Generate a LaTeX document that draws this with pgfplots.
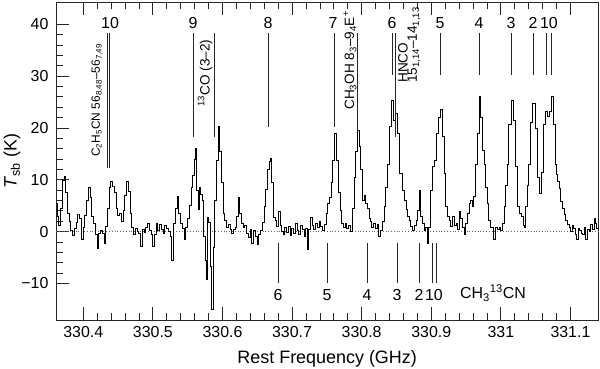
\documentclass[border=0pt]{standalone}
\usepackage{fontspec}
\setmainfont{Liberation Sans}
\usepackage{pgfplots}
\pgfplotsset{compat=1.18}
\begin{document}
\begin{tikzpicture}
\useasboundingbox (0,0) rectangle (600bp,369bp);
\begin{axis}[
  at={(56bp,49bp)}, anchor=south west,
  width=542.3bp, height=318bp, scale only axis,
  xmin=330.3608, xmax=331.14, ymin=-17.05, ymax=44.3,
  axis line style={black!85, line width=0.8bp},
  xtick={330.4,330.5,330.6,330.7,330.8,330.9,331,331.1},
  xticklabels={330.4,330.5,330.6,330.7,330.8,330.9,331,331.1},
  ytick={-10,0,10,20,30,40},
  yticklabels={−10,0,10,20,30,40},
  minor x tick num=4, minor y tick num=4,
  tick align=inside, xtick pos=both, ytick pos=left,
  major tick length=13bp, minor tick length=7bp,
  tick style={black!85, line width=0.8bp},
  tick label style={font=\fontsize{16}{19}\selectfont},
  xticklabel style={yshift=-3bp},
  yticklabel style={xshift=-4bp},
  xlabel={Rest Frequency (GHz)},
  ylabel={\textit{T}\textsubscript{sb} (K)},
  label style={font=\fontsize{18}{21}\selectfont},
  xlabel style={at={(axis description cs:0.5,-0.122)}, anchor=center},
  ylabel style={at={(axis description cs:-0.081,0.5)}, anchor=center},
  clip=false,
]
\addplot[black!60, dotted, line width=0.8bp, forget plot] coordinates {(330.3608,0) (331.14,0)};
\addplot[const plot mark mid, black, line width=0.9bp] table {
f T
330.3610 5.5
330.3635 3.0
330.3660 1.2
330.3685 4.5
330.3710 9.8
330.3735 10.6
330.3760 7.5
330.3785 3.5
330.3810 2.0
330.3835 0.3
330.3860 -0.8
330.3885 0.6
330.3910 1.8
330.3935 3.4
330.3960 2.5
330.3985 -1.5
330.4010 0.8
330.4035 3.2
330.4060 6.0
330.4085 8.6
330.4110 6.5
330.4135 3.0
330.4160 1.5
330.4185 -0.5
330.4210 -3.2
330.4235 -0.4
330.4260 0.2
330.4285 -0.3
330.4310 -2.2
330.4335 1.0
330.4360 4.5
330.4385 8.5
330.4410 9.6
330.4435 8.8
330.4460 7.5
330.4485 4.5
330.4510 3.2
330.4535 3.6
330.4560 2.0
330.4585 4.0
330.4610 7.0
330.4635 9.6
330.4660 7.8
330.4685 3.5
330.4710 0.8
330.4735 -0.5
330.4760 0.6
330.4785 0.0
330.4810 -0.4
330.4835 -2.8
330.4860 0.5
330.4885 -0.2
330.4910 0.9
330.4935 1.5
330.4960 0.3
330.4985 -0.6
330.5010 -2.8
330.5035 -0.5
330.5060 1.6
330.5085 0.2
330.5110 1.4
330.5135 0.4
330.5160 -0.3
330.5185 1.2
330.5210 0.6
330.5235 0.0
330.5260 -1.0
330.5285 -5.5
330.5310 1.5
330.5335 4.5
330.5360 6.8
330.5385 3.5
330.5410 1.5
330.5435 0.6
330.5460 -1.6
330.5485 0.8
330.5510 2.5
330.5535 5.0
330.5560 8.5
330.5585 10.8
330.5610 14.0
330.5625 16.1
330.5640 8.0
330.5660 4.2
330.5680 8.6
330.5700 7.2
330.5720 6.0
330.5740 -1.0
330.5765 -5.5
330.5780 -9.3
330.5795 2.8
330.5815 1.8
330.5835 -6.8
330.5855 -15.1
330.5875 -3.0
330.5900 6.0
330.5925 13.8
330.5950 20.2
330.5975 15.5
330.5995 9.5
330.6020 3.5
330.6045 2.2
330.6070 0.9
330.6095 1.3
330.6120 0.4
330.6145 -0.3
330.6170 0.5
330.6195 0.9
330.6220 3.0
330.6235 6.5
330.6260 3.6
330.6285 1.5
330.6310 0.8
330.6335 1.2
330.6360 -0.3
330.6385 -1.2
330.6410 0.4
330.6435 -2.2
330.6460 0.3
330.6485 -1.0
330.6510 -2.4
330.6535 -0.5
330.6560 0.3
330.6585 1.8
330.6610 4.8
330.6635 8.2
330.6660 11.9
330.6685 13.6
330.6700 14.2
330.6720 9.4
330.6745 2.8
330.6770 2.2
330.6795 1.0
330.6815 3.8
330.6840 1.2
330.6860 0.0
330.6885 -0.6
330.6910 0.8
330.6935 -0.2
330.6960 1.0
330.6985 -0.8
330.7010 0.7
330.7035 -0.4
330.7060 1.5
330.7085 0.2
330.7110 -0.5
330.7135 1.2
330.7160 0.4
330.7185 -1.0
330.7210 0.6
330.7225 -3.5
330.7250 0.5
330.7275 2.8
330.7300 1.2
330.7325 0.5
330.7350 1.6
330.7375 0.9
330.7400 2.0
330.7425 1.0
330.7450 0.3
330.7475 1.4
330.7500 3.6
330.7525 5.5
330.7550 6.5
330.7575 9.5
330.7595 13.8
330.7625 19.0
330.7655 13.8
330.7680 7.5
330.7700 4.0
330.7725 1.5
330.7750 0.8
330.7775 1.6
330.7800 0.6
330.7825 1.2
330.7850 0.0
330.7875 4.5
330.7905 10.5
330.7930 15.5
330.7950 19.6
330.7975 16.4
330.8000 12.0
330.8025 6.0
330.8045 7.0
330.8070 5.5
330.8095 4.5
330.8120 2.5
330.8135 1.9
330.8160 0.8
330.8185 1.5
330.8210 0.6
330.8235 1.3
330.8260 -1.0
330.8290 0.3
330.8315 2.0
330.8335 4.8
330.8360 8.5
330.8385 13.0
330.8420 20.2
330.8445 25.4
330.8468 21.5
330.8493 22.8
330.8525 19.0
330.8565 11.3
330.8600 8.0
330.8625 6.0
330.8650 4.2
330.8675 3.0
330.8695 2.2
330.8720 1.0
330.8745 0.3
330.8770 1.2
330.8790 2.2
330.8815 4.0
330.8838 8.0
330.8860 3.0
330.8885 1.5
330.8910 0.3
330.8930 0.8
330.8950 -2.2
330.8975 0.9
330.9005 8.0
330.9030 12.5
330.9060 13.8
330.9090 19.0
330.9125 22.1
330.9150 23.5
330.9172 18.3
330.9197 11.2
330.9221 4.8
330.9245 3.0
330.9270 2.2
330.9295 1.0
330.9320 2.9
330.9345 1.2
330.9365 1.5
330.9390 0.5
330.9412 3.8
330.9435 2.5
330.9460 0.9
330.9485 -0.5
330.9510 1.5
330.9532 3.5
330.9555 5.5
330.9580 6.0
330.9600 4.8
330.9618 6.7
330.9652 13.0
330.9675 19.0
330.9700 26.0
330.9724 22.0
330.9747 15.7
330.9772 13.0
330.9795 8.5
330.9810 5.4
330.9843 2.2
330.9870 0.9
330.9905 -1.6
330.9930 0.9
330.9960 0.5
330.9987 0.9
331.0015 0.3
331.0040 1.5
331.0059 4.8
331.0080 9.0
331.0098 13.0
331.0131 20.6
331.0164 25.4
331.0193 21.5
331.0227 12.5
331.0250 4.8
331.0275 3.5
331.0308 2.9
331.0330 1.2
331.0346 0.9
331.0371 4.8
331.0390 9.0
331.0408 13.0
331.0443 21.0
331.0476 24.8
331.0504 20.0
331.0537 10.5
331.0562 7.4
331.0595 11.5
331.0624 20.6
331.0658 23.2
331.0681 22.2
331.0706 23.2
331.0739 26.0
331.0763 20.6
331.0792 13.0
331.0810 11.0
331.0825 9.7
331.0849 8.4
331.0874 5.8
331.0900 4.5
331.0921 3.3
331.0945 2.2
331.0968 1.3
331.0990 0.8
331.1017 0.0
331.1040 1.2
331.1060 0.6
331.1080 -0.6
331.1098 -1.6
331.1120 0.6
331.1145 0.2
331.1165 -0.3
331.1185 -0.5
331.1210 0.8
331.1233 -1.6
331.1255 0.5
331.1280 0.0
331.1305 1.3
331.1330 0.4
331.1350 2.6
331.1370 1.5
331.1390 0.6
331.1400 0.8
};
% line markers (top)
\addplot[black!85, line width=0.8bp, unbounded coords=jump, forget plot] coordinates {
(330.4351,38.4) (330.4351,12.3) (330.4351,nan)
(330.4379,38.4) (330.4379,12.3) (330.4379,nan)
(330.5576,38.4) (330.5576,18.3) (330.5576,nan)
(330.5878,38.4) (330.5878,18.3) (330.5878,nan)
(330.6654,38.4) (330.6654,20.2) (330.6654,nan)
(330.7602,38.4) (330.7602,20.2) (330.7602,nan)
(330.7940,38.4) (330.7940,19.6) (330.7940,nan)
(330.8436,38.4) (330.8436,30.2) (330.8436,nan)
(330.8487,38.4) (330.8487,18.3) (330.8487,nan)
(330.9126,38.4) (330.9126,30.2) (330.9126,nan)
(330.9685,38.4) (330.9685,30.2) (330.9685,nan)
(331.0145,38.4) (331.0145,30.2) (331.0145,nan)
(331.0461,38.4) (331.0461,30.2) (331.0461,nan)
(331.0648,38.4) (331.0648,30.2) (331.0648,nan)
(331.0720,38.4) (331.0720,30.2) (331.0720,nan)
};
% line markers (bottom, CH3-13CN)
\addplot[black!85, line width=0.8bp, unbounded coords=jump, forget plot] coordinates {
(330.6797,-2.2) (330.6797,-9.9) (330.6797,nan)
(330.7501,-2.2) (330.7501,-9.9) (330.7501,nan)
(330.8076,-2.2) (330.8076,-9.9) (330.8076,nan)
(330.8507,-2.2) (330.8507,-9.9) (330.8507,nan)
(330.8823,-2.2) (330.8823,-9.9) (330.8823,nan)
(330.9015,-2.2) (330.9015,-9.9) (330.9015,nan)
(330.9078,-2.2) (330.9078,-9.9) (330.9078,nan)
};
\begin{scope}[every node/.style={font=\fontsize{16}{19}\selectfont, inner sep=0pt}]
\node at (axis cs:330.4384,40.3) {10};
\node at (axis cs:330.5576,40.3) {9};
\node at (axis cs:330.6654,40.3) {8};
\node at (axis cs:330.7588,40.3) {7};
\node at (axis cs:330.8436,40.3) {6};
\node at (axis cs:330.9125,40.3) {5};
\node at (axis cs:330.9685,40.3) {4};
\node at (axis cs:331.0145,40.3) {3};
\node at (axis cs:331.0461,40.3) {2};
\node at (axis cs:331.0691,40.3) {10};
\node at (axis cs:330.6797,-12.2) {6};
\node at (axis cs:330.7501,-12.2) {5};
\node at (axis cs:330.8076,-12.2) {4};
\node at (axis cs:330.8507,-12.2) {3};
\node at (axis cs:330.8823,-12.2) {2};
\node at (axis cs:330.9038,-12.2) {10};
\node at (axis cs:330.9887,-11.8) {CH\textsubscript{3}\textsuperscript{13}CN};
\end{scope}
\begin{scope}[every node/.style={font=\fontsize{13.6}{16}\selectfont, inner sep=0pt, rotate=90, anchor=west}]
\node[font=\fontsize{12}{14}\selectfont] at (axis cs:330.4198,14.4) {C\textsubscript{2}H\textsubscript{5}CN 56\textsubscript{8,48}–56\textsubscript{7,49}};
\node at (axis cs:330.5749,24.1) {\textsuperscript{13}CO (3–2)};
\node at (axis cs:330.7832,23.5) {CH\textsubscript{3}OH 8\textsubscript{3}–9\textsubscript{4}E\textsuperscript{+}};
\node at (axis cs:330.8594,28.7) {HNCO};
\node at (axis cs:330.8752,28.7) {15\textsubscript{1,14}–14\textsubscript{1,13}};
\end{scope}
\end{axis}
\end{tikzpicture}
\end{document}
